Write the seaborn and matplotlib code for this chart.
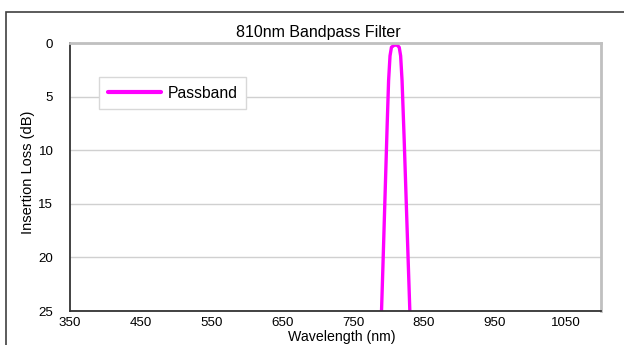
import matplotlib
matplotlib.use("Agg")
import matplotlib.pyplot as plt
import matplotlib.patches as patches
import seaborn as sns
import pandas as pd

# Filter response
wavelength = [790, 792, 795, 798, 800, 802, 804, 808, 812, 815, 817, 819, 822, 826, 830]
insertion_loss = [25, 20.8, 14.2, 7.6, 3.5, 1.2, 0.4, 0.2, 0.2, 0.4, 1.2, 3.5, 9, 17, 25]
x_ticks = [350, 450, 550, 650, 750, 850, 950, 1050]
y_ticks = [0, 5, 10, 15, 20, 25]

df = pd.DataFrame({"Wavelength (nm)": wavelength, "Insertion Loss (dB)": insertion_loss})

sns.set_style("white")
plt.rcParams["font.family"] = ["Liberation Sans", "DejaVu Sans"]
plt.rcParams["text.color"] = "black"
plt.rcParams["axes.labelcolor"] = "black"
plt.rcParams["xtick.color"] = "black"
plt.rcParams["ytick.color"] = "black"

fig = plt.figure(figsize=(6.24, 3.45), dpi=100)
ax = fig.add_axes([70 / 624, 1 - 311 / 345, 531 / 624, 268 / 345])

sns.lineplot(data=df, x="Wavelength (nm)", y="Insertion Loss (dB)", ax=ax,
             color="#ff00ff", linewidth=2.4, label="Passband", sort=False)

ax.set_xlim(350, 1100)
ax.set_ylim(25, 0)
ax.set_xticks(x_ticks)
ax.set_yticks(y_ticks)
ax.tick_params(axis="x", direction="in", length=4, width=1, color="#333333",
               labelsize=9.6, pad=4)
ax.tick_params(axis="y", direction="out", length=4, width=1, color="#333333",
               labelsize=9.6, pad=8)
ax.grid(axis="y", color="#d0d0d0", linewidth=1)
ax.set_axisbelow(True)

for side in ["left", "bottom"]:
    ax.spines[side].set_color("#333333")
    ax.spines[side].set_linewidth(1.3)
for side in ["top", "right"]:
    ax.spines[side].set_color("#c0c0c0")
    ax.spines[side].set_linewidth(2)

ax.set_xlabel("")
ax.set_ylabel("")
# x label sits right at the lower edge, as in the original chart
fig.text(342 / 624, 1 / 345, "Wavelength (nm)", fontsize=10.2,
         ha="center", va="bottom")
fig.text(28 / 624, 1 - 172 / 345, "Insertion Loss (dB)", rotation=90,
         fontsize=10.5, ha="center", va="center")
fig.text(318 / 624, 1 - 32 / 345, "810nm Bandpass Filter", fontsize=11.5,
         ha="center", va="center")

leg = ax.legend(loc="upper left", bbox_to_anchor=(29 / 531, 234 / 268),
                borderaxespad=0, fontsize=11.3, handlelength=3.4,
                handletextpad=0.4, borderpad=0.55, fancybox=False,
                framealpha=1, edgecolor="#d8d8d8")
leg.get_frame().set_linewidth(1)
for line in leg.get_lines():
    line.set_linewidth(3)

# outer chart border
fig.patches.append(patches.Rectangle((6 / 624, -0.1), 1.1, 1 - 12 / 345 + 0.1,
                                     transform=fig.transFigure, fill=False,
                                     edgecolor="#404040", linewidth=1.2))

fig.savefig("out.png", dpi=100)
